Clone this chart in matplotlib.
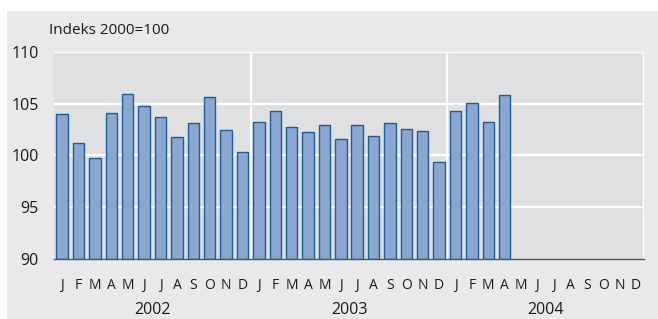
import numpy as np
import matplotlib.pyplot as plt
from matplotlib.patches import Rectangle

plt.rcParams['font.family'] = ['Open Sans', 'DejaVu Sans']

# data: index 2000=100, monthly, Jan 2002 - Apr 2004
values = [104.0, 101.2, 99.8, 104.1, 105.9, 104.8, 103.7, 101.8, 103.1, 105.7, 102.5, 100.3,
          103.2, 104.3, 102.8, 102.3, 102.9, 101.6, 102.9, 101.9, 103.1, 102.6, 102.4, 99.4,
          104.3, 105.1, 103.2, 105.8]
months = ['J', 'F', 'M', 'A', 'M', 'J', 'J', 'A', 'S', 'O', 'N', 'D']
years = ['2002', '2003', '2004']
yticks = [90, 95, 100, 105, 110]

fig = plt.figure(figsize=(6.58, 3.19), dpi=100)
fig.patch.set_facecolor('white')
# grey panel behind everything
fig.patches.append(Rectangle((7/658, 0), 1, 1 - 11/319, transform=fig.transFigure,
                             facecolor='#e9e9eb', edgecolor='none', zorder=-10))

ax = fig.add_axes([54/658, 1 - 259/319, (644 - 54)/658, (259 - 52)/319])
ax.set_facecolor('#dfe0e2')

n_total = len(months) * len(years)
x = np.arange(len(values))
ax.bar(x, np.array(values) - 90, bottom=90, width=0.7, color='#8ba6cf',
       edgecolor='#1e5c9c', linewidth=1.0, zorder=3)

ax.set_xlim(-0.5, n_total - 0.5)
ax.set_ylim(90, 110)

# white grid
for y in yticks[1:]:
    ax.axhline(y, color='white', lw=1.6, zorder=1)
for b in [11.5, 23.5, 35.5]:
    ax.axvline(b, color='white', lw=1.6, zorder=1)

for s in ['top', 'right', 'left']:
    ax.spines[s].set_visible(False)
ax.spines['bottom'].set_color('#555555')
ax.spines['bottom'].set_linewidth(1.0)
ax.spines['bottom'].set_zorder(4)

ax.set_yticks(yticks)
ax.set_yticklabels([str(v) for v in yticks], fontsize=11.5, color='#1a1a1a')
ax.tick_params(axis='y', length=0, pad=11)

ax.set_xticks(np.arange(n_total))
ax.set_xticklabels(months * len(years), fontsize=10, color='#1a1a1a')
ax.tick_params(axis='x', length=0, pad=14)

for i, yr in enumerate(years):
    ax.text(i * 12 + 5.5, -0.245, yr, transform=ax.get_xaxis_transform(),
            ha='center', va='center', fontsize=11.5, color='#1a1a1a')

fig.text(49/658, 1 - 30/319, 'Indeks 2000=100', ha='left', va='center',
         fontsize=11, color='#1a1a1a')

fig.savefig('out.png', dpi=100, facecolor=fig.get_facecolor())
